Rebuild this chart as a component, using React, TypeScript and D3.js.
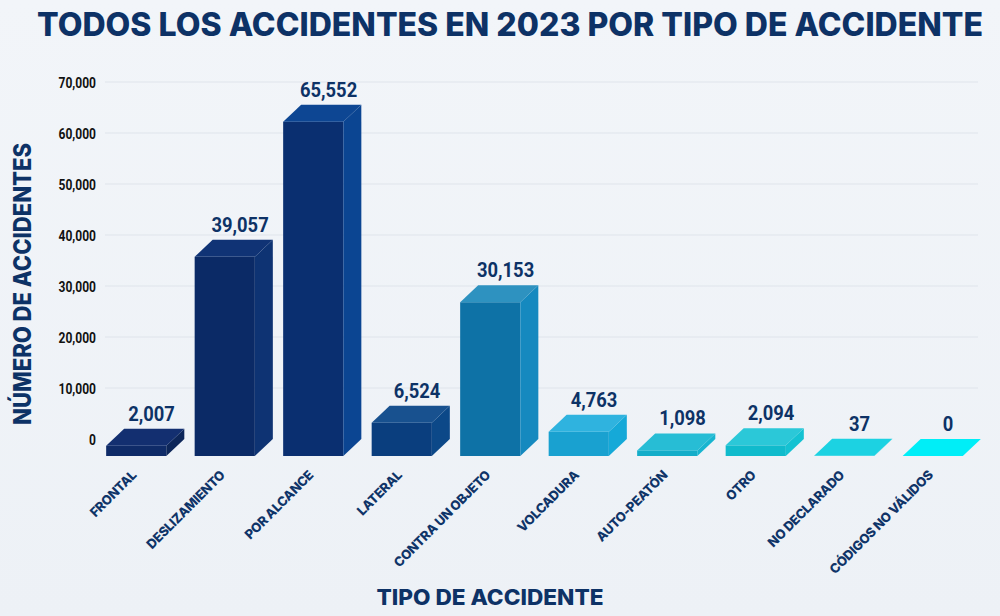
import React from "react";
import * as d3 from "d3";

// data
const categories = [
  "FRONTAL",
  "DESLIZAMIENTO",
  "POR ALCANCE",
  "LATERAL",
  "CONTRA UN OBJETO",
  "VOLCADURA",
  "AUTO-PEATÓN",
  "OTRO",
  "NO DECLARADO",
  "CÓDIGOS NO VÁLIDOS",
];
const values = [2007, 39057, 65552, 6524, 30153, 4763, 1098, 2094, 37, 0];
const yTicks = [0, 10000, 20000, 30000, 40000, 50000, 60000, 70000];

// front / top / side shades for each bar
const frontColors = ["#0f2b68", "#0b2a66", "#0a2f70", "#0a3e7e", "#0e72a6", "#19a1d0", "#14adc9", "#10bbcc", "#14c8d8", "#00e4ef"];
const topColors = ["#132f70", "#103375", "#0d4693", "#18518f", "#2e92c0", "#2fb3df", "#27bdd5", "#2bc8d8", "#1cd2e2", "#00eef7"];
const sideColors = ["#0d2659", "#0e3373", "#0b4592", "#0c4888", "#1589bf", "#15a9d8", "#17b5d0", "#14c2d2", "#18cadb", "#00e6f0"];

const W = 1000;
const H = 616;
const NAVY = "#0d3266";
const DX = 18; // 3d depth
const DY = -17;

const x = d3.scaleBand<string>().domain(categories).range([92, 977]).paddingInner(0.32).paddingOuter(0.16);
const y = d3.scaleLinear().domain([0, 70000]).range([456, 99]);
const fmt = d3.format(",");

const App = () => {
  const bw = x.bandwidth();
  return (
    <svg width={W} height={H} style={{ position: "absolute", left: 0, top: 0 }}>
      <defs>
        <linearGradient id="bg" x1="0" y1="0" x2="0" y2="1">
          <stop offset="0" stopColor="#f2f5f9" />
          <stop offset="1" stopColor="#edf1f6" />
        </linearGradient>
      </defs>
      <rect width={W} height={H} fill="url(#bg)" />

      {/* title */}
      <text x={37} y={36} fill={NAVY} fontFamily="Inter, 'Noto Sans', sans-serif" fontWeight={800} fontSize={32}
        textLength={946} lengthAdjust="spacingAndGlyphs">
        TODOS LOS ACCIDENTES EN 2023 POR TIPO DE ACCIDENTE
      </text>

      {/* gridlines + y ticks */}
      {yTicks.map((t) => (
        <g key={t}>
          {t > 0 && <line x1={105} x2={978} y1={y(t) + DY} y2={y(t) + DY} stroke="#dfe4eb" strokeWidth={1} />}
          <text transform={`translate(96,${y(t) + DY + 6}) scale(0.86,1)`} textAnchor="end" fill="#111"
            fontFamily="Roboto, sans-serif" fontWeight={700} fontSize={14}>
            {fmt(t)}
          </text>
        </g>
      ))}

      {/* bars */}
      {categories.map((c, i) => {
        const x0 = x(c)!;
        const x1 = x0 + bw;
        const yb = y(0);
        const yt = y(values[i]);
        const top = [[x0, yt], [x0 + DX, yt + DY], [x1 + DX, yt + DY], [x1, yt]];
        const side = [[x1, yt], [x1 + DX, yt + DY], [x1 + DX, yb + DY], [x1, yb]];
        return (
          <g key={c}>
            {yb - yt > 0 && <rect x={x0} y={yt} width={bw} height={yb - yt} fill={frontColors[i]} />}
            {yb - yt > 0 && <polygon points={side.join(" ")} fill={sideColors[i]} />}
            <polygon points={top.join(" ")} fill={topColors[i]} />
            <text transform={`translate(${x0 + bw / 2 + DX * 0.85},${yt + DY - 8}) scale(0.92,1)`} textAnchor="middle"
              fill={NAVY} fontFamily="Roboto, sans-serif" fontWeight={700} fontSize={20}>
              {fmt(values[i])}
            </text>
            <text transform={`translate(${x0 + bw / 2 + 1},${476}) rotate(-45)`} textAnchor="end" fill="#0f3468"
              fontFamily="Inter, 'Noto Sans', sans-serif" fontWeight={800} fontSize={13} letterSpacing={-0.3}>
              {c}
            </text>
          </g>
        );
      })}

      {/* axis titles */}
      <text transform="translate(31,284) rotate(-90)" textAnchor="middle" fill={NAVY}
        fontFamily="Inter, 'Noto Sans', sans-serif" fontWeight={800} fontSize={24} textLength={282} lengthAdjust="spacingAndGlyphs">
        NÚMERO DE ACCIDENTES
      </text>
      <text x={490} y={605} textAnchor="middle" fill={NAVY} fontFamily="Inter, 'Noto Sans', sans-serif" fontWeight={800}
        fontSize={21} textLength={227} lengthAdjust="spacingAndGlyphs">
        TIPO DE ACCIDENTE
      </text>
    </svg>
  );
};

export default App;
